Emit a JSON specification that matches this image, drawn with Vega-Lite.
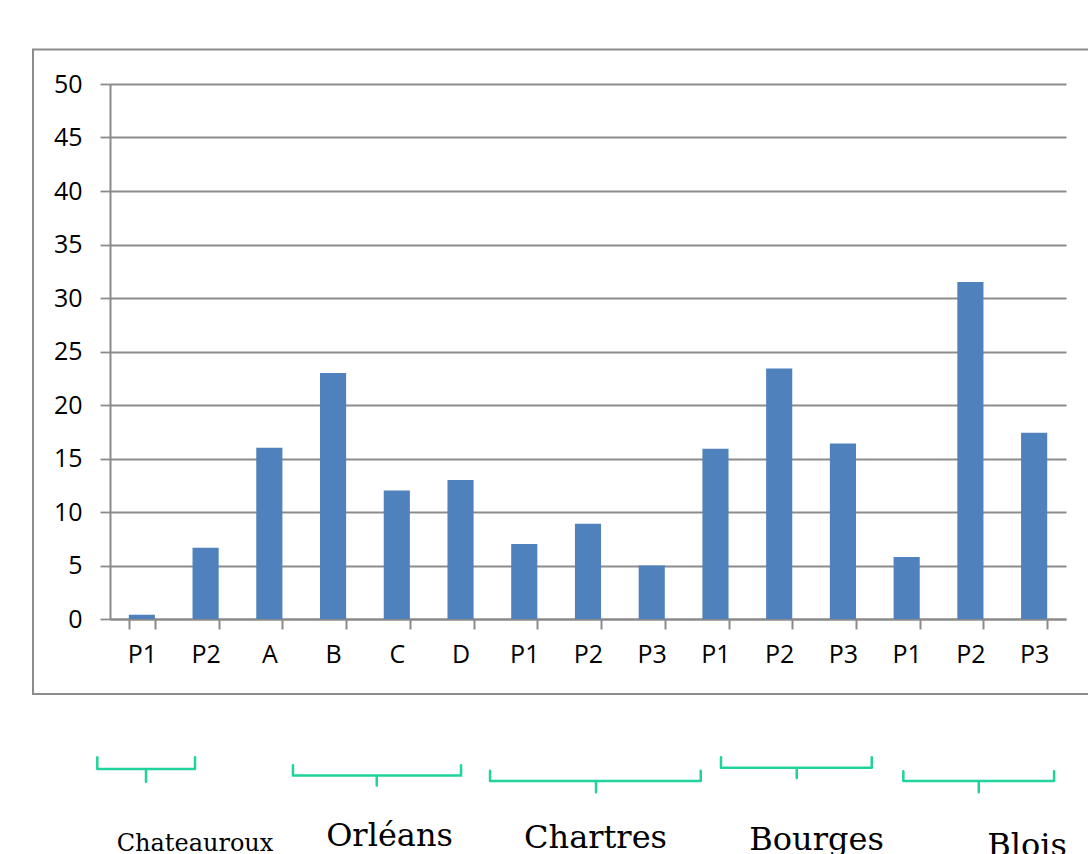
{
  "$schema": "https://vega.github.io/schema/vega-lite/v6.json",
  "width": 956,
  "height": 535,
  "autosize": {"type": "none"},
  "padding": {"left": 110, "top": 84, "right": 22, "bottom": 235},
  "background": "white",
  "config": {"view": {"stroke": null}, "font": "Open Sans"},
  "datasets": {
    "bars": [
      {"key": "Chateauroux|P1", "value": 0.4},
      {"key": "Chateauroux|P2", "value": 6.65},
      {"key": "Orléans|A", "value": 16},
      {"key": "Orléans|B", "value": 23},
      {"key": "Orléans|C", "value": 12},
      {"key": "Orléans|D", "value": 13},
      {"key": "Chartres|P1", "value": 7},
      {"key": "Chartres|P2", "value": 8.9},
      {"key": "Chartres|P3", "value": 5},
      {"key": "Bourges|P1", "value": 15.9},
      {"key": "Bourges|P2", "value": 23.4},
      {"key": "Bourges|P3", "value": 16.4},
      {"key": "Blois|P1", "value": 5.8},
      {"key": "Blois|P2", "value": 31.5},
      {"key": "Blois|P3", "value": 17.4}
    ],
    "border": [{"x": -1.208, "x2": 16, "y": 53.23, "y2": -7.02}],
    "brackets": [
      {"b": "Chateauroux", "o": 1, "x": -0.199, "y": -12.91},
      {"b": "Chateauroux", "o": 2, "x": -0.199, "y": -14.03},
      {"b": "Chateauroux", "o": 3, "x": 0.565, "y": -14.03},
      {"b": "Chateauroux", "o": 4, "x": 0.565, "y": -15.22},
      {"b": "Chateauroux", "o": 5, "x": 0.565, "y": -14.03},
      {"b": "Chateauroux", "o": 6, "x": 1.334, "y": -14.03},
      {"b": "Chateauroux", "o": 7, "x": 1.334, "y": -12.91},
      {"b": "Orléans", "o": 1, "x": 2.871, "y": -13.66},
      {"b": "Orléans", "o": 2, "x": 2.871, "y": -14.62},
      {"b": "Orléans", "o": 3, "x": 4.185, "y": -14.62},
      {"b": "Orléans", "o": 4, "x": 4.185, "y": -15.56},
      {"b": "Orléans", "o": 5, "x": 4.185, "y": -14.62},
      {"b": "Orléans", "o": 6, "x": 5.508, "y": -14.62},
      {"b": "Orléans", "o": 7, "x": 5.508, "y": -13.66},
      {"b": "Chartres", "o": 1, "x": 5.963, "y": -14.19},
      {"b": "Chartres", "o": 2, "x": 5.963, "y": -15.15},
      {"b": "Chartres", "o": 3, "x": 7.626, "y": -15.15},
      {"b": "Chartres", "o": 4, "x": 7.626, "y": -16.18},
      {"b": "Chartres", "o": 5, "x": 7.626, "y": -15.15},
      {"b": "Chartres", "o": 6, "x": 9.269, "y": -15.15},
      {"b": "Chartres", "o": 7, "x": 9.269, "y": -14.19},
      {"b": "Bourges", "o": 1, "x": 9.587, "y": -12.91},
      {"b": "Bourges", "o": 2, "x": 9.587, "y": -13.91},
      {"b": "Bourges", "o": 3, "x": 10.775, "y": -13.91},
      {"b": "Bourges", "o": 4, "x": 10.775, "y": -14.87},
      {"b": "Bourges", "o": 5, "x": 10.775, "y": -13.91},
      {"b": "Bourges", "o": 6, "x": 11.952, "y": -13.91},
      {"b": "Bourges", "o": 7, "x": 11.952, "y": -12.91},
      {"b": "Blois", "o": 1, "x": 12.448, "y": -14.22},
      {"b": "Blois", "o": 2, "x": 12.448, "y": -15.15},
      {"b": "Blois", "o": 3, "x": 13.631, "y": -15.15},
      {"b": "Blois", "o": 4, "x": 13.631, "y": -16.18},
      {"b": "Blois", "o": 5, "x": 13.631, "y": -15.15},
      {"b": "Blois", "o": 6, "x": 14.813, "y": -15.15},
      {"b": "Blois", "o": 7, "x": 14.813, "y": -14.22}
    ],
    "cities": [
      {"city": "Chateauroux", "x": 1.334, "y": -21.7},
      {"city": "Orléans", "x": 4.386, "y": -21.21},
      {"city": "Chartres", "x": 7.618, "y": -21.39},
      {"city": "Bourges", "x": 11.086, "y": -21.61},
      {"city": "Blois", "x": 14.389, "y": -22.17}
    ]
  },
  "layer": [
    {
      "data": {"name": "bars"},
      "mark": {"type": "bar", "color": "#4f81bd"},
      "encoding": {
        "x": {
          "field": "key",
          "type": "ordinal",
          "sort": null,
          "scale": {"paddingInner": 0.59, "paddingOuter": 0.295},
          "axis": {
            "title": null,
            "labelExpr": "split(datum.label, '|')[1]",
            "labelAngle": 0,
            "tickBand": "extent",
            "tickSize": 10,
            "tickColor": "#8a8a8a",
            "tickWidth": 2,
            "domainColor": "#8a8a8a",
            "domainWidth": 2,
            "labelFontSize": 25,
            "labelColor": "#000000",
            "labelPadding": 13,
            "labelFont": "Open Sans"
          }
        },
        "y": {
          "field": "value",
          "type": "quantitative",
          "scale": {"domain": [0, 50], "nice": false},
          "axis": {
            "title": null,
            "values": [0, 5, 10, 15, 20, 25, 30, 35, 40, 45, 50],
            "grid": true,
            "gridColor": "#8c8c8c",
            "gridWidth": 1.8,
            "tickSize": 10,
            "tickColor": "#8c8c8c",
            "tickWidth": 1.8,
            "domainColor": "#8a8a8a",
            "domainWidth": 2,
            "labelFontSize": 25,
            "labelColor": "#000000",
            "labelPadding": 18,
            "labelFont": "Open Sans"
          }
        }
      }
    },
    {
      "layer": [
        {
          "data": {"name": "border"},
          "mark": {"type": "rect", "fill": null, "stroke": "#8c8c8c", "strokeWidth": 2, "clip": false},
          "encoding": {
            "x": {"field": "x", "type": "quantitative", "scale": {"domain": [0, 15], "nice": false, "zero": false}, "axis": null},
            "x2": {"field": "x2"},
            "y": {"field": "y", "type": "quantitative", "scale": {"domain": [0, 50], "nice": false, "zero": false}, "axis": null},
            "y2": {"field": "y2"}
          }
        },
        {
          "data": {"name": "brackets"},
          "mark": {"type": "line", "color": "#1fd39b", "strokeWidth": 2.5, "strokeJoin": "round", "strokeCap": "round", "clip": false},
          "encoding": {
            "x": {"field": "x", "type": "quantitative", "scale": {"domain": [0, 15], "nice": false, "zero": false}, "axis": null},
            "y": {"field": "y", "type": "quantitative", "scale": {"domain": [0, 50], "nice": false, "zero": false}, "axis": null},
            "detail": {"field": "b"},
            "order": {"field": "o", "type": "quantitative"}
          }
        },
        {
          "data": {"name": "cities"},
          "mark": {"type": "text", "font": "DejaVu Serif", "align": "center", "baseline": "alphabetic", "color": "#000000", "clip": false},
          "encoding": {
            "x": {"field": "x", "type": "quantitative", "scale": {"domain": [0, 15], "nice": false, "zero": false}, "axis": null},
            "y": {"field": "y", "type": "quantitative", "scale": {"domain": [0, 50], "nice": false, "zero": false}, "axis": null},
            "text": {"field": "city"},
            "size": {"condition": {"test": "datum.city === 'Chateauroux'", "value": 24}, "value": 32}
          }
        }
      ]
    }
  ],
  "resolve": {"scale": {"x": "independent", "y": "independent"}}
}
